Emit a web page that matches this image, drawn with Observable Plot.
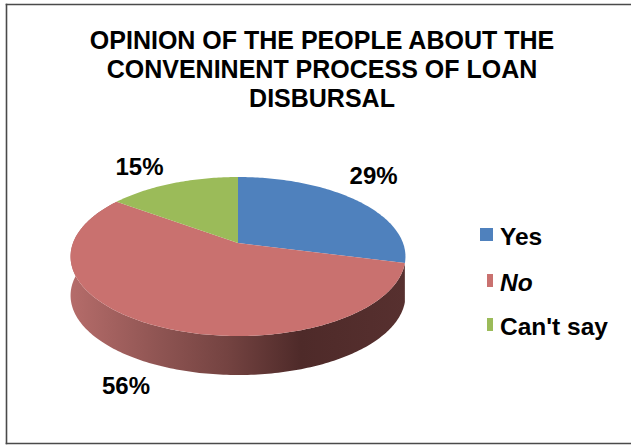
<!DOCTYPE html>
<html>
<head>
<meta charset="utf-8">
<script src="https://cdn.jsdelivr.net/npm/d3@7"></script>
<script src="https://cdn.jsdelivr.net/npm/@observablehq/plot@0.6"></script>
<style>
  html, body { margin: 0; background: #fff; }
  svg { display: block; }
</style>
</head>
<body>
<div id="chart"></div>
<script>
// Survey shares
const categories = ["Yes", "No", "Can't say"];
const shares = [29, 56, 15];
const shareLabels = ["29%", "56%", "15%"];
const colours = ["#4f81bd", "#c9716f", "#9bbb59"];
const titleLines = [
  "OPINION OF THE PEOPLE ABOUT THE",
  "CONVENINENT PROCESS OF LOAN",
  "DISBURSAL"
];

// Pie geometry: x and y scales map a unit disc onto the page, tilted in perspective
const hub = [238, 243];
const radiusX = 165;
const radiusY = 77.2;
const tilt = 0.17;
const thickness = 39 / radiusY;
const font = "'Liberation Sans', Arial, sans-serif";

// Offsets of the percentage labels from the rim at each slice's middle
const labelOffsets = [[17, -24], [-29.5, 60], [-34, -16]];

function project(turn) {
  const a = turn * 2 * Math.PI;
  const w = 1 + tilt * Math.cos(a);
  return [Math.sin(a) / w, Math.cos(a) / w];
}

// One row per rim sample, carrying the slice it belongs to
const total = d3.sum(shares);
const ends = d3.cumsum(shares);
const slices = categories.map((category, i) => ({
  category,
  start: (ends[i] - shares[i]) / total,
  end: ends[i] / total,
  label: shareLabels[i]
}));
const rim = slices.flatMap((s) => {
  const n = Math.ceil((s.end - s.start) * 360);
  return d3.range(n + 1).map((k) => {
    const [x, y] = project(s.start + (s.end - s.start) * (k / n));
    return { category: s.category, x, y };
  });
});

// Shaded side wall of the front slice
const wallGradient = () => {
  const defs = d3.create("svg:defs");
  const g = defs.append("linearGradient").attr("id", "wall");
  [[0, "#b56c6a"], [0.27, "#8e5452"], [0.47, "#744341"], [0.69, "#4e2a29"], [1, "#57302f"]]
    .forEach(([o, c]) => g.append("stop").attr("offset", o).attr("stop-color", c));
  return defs.node();
};

// Legend layout, expressed in page pixels and converted to the chart's scales
const toX = (px) => (px - hub[0]) / radiusX;
const toY = (px) => (hub[1] - px) / radiusY;
const legendTops = [228, 274, 318];
const legendLefts = [480, 487, 487];
const legendTextLeft = 499.5;
const legendRight = 493;
const swatchHeight = 13;

const textStyle = { fontFamily: font, fontWeight: "bold", fill: "#000" };

const chart = Plot.plot({
  width: 631,
  height: 445,
  marginLeft: 6,
  marginTop: 4,
  marginRight: 0,
  marginBottom: 2,
  style: { background: "#fff", overflow: "hidden" },
  x: { axis: null, domain: [-1, 1], range: [hub[0] - radiusX, hub[0] + radiusX] },
  y: { axis: null, domain: [-1, 1], range: [hub[1] + radiusY, hub[1] - radiusY] },
  color: { domain: categories, range: colours },
  marks: [
    wallGradient,
    // Chart border, open on the right
    ...["left", "top", "bottom"].map((anchor) =>
      Plot.frame({ anchor, stroke: "#4a4a4a", strokeWidth: 1.6 })
    ),
    Plot.text([titleLines.join("\n")], {
      ...textStyle,
      frameAnchor: "top",
      dx: 3,
      dy: 24,
      fontSize: 25,
      lineHeight: 1.16
    }),
    // Side wall
    Plot.area(rim.filter((d) => d.category === "No"), {
      x1: "x",
      y1: "y",
      x2: "x",
      y2: (d) => d.y - thickness,
      fill: "url(#wall)"
    }),
    // Top faces: each slice is swept from the hub to its rim
    Plot.area(rim, {
      x1: () => 0,
      y1: () => 0,
      x2: "x",
      y2: "y",
      z: "category",
      fill: "category"
    }),
    // Percentage labels
    ...slices.map((s, i) => {
      const [x, y] = project((s.start + s.end) / 2);
      return Plot.text([s.label], {
        ...textStyle,
        x: () => x,
        y: () => y,
        dx: labelOffsets[i][0],
        dy: labelOffsets[i][1],
        fontSize: 24
      });
    }),
    // Legend
    Plot.rect(categories, {
      x1: (d, i) => toX(legendLefts[i]),
      x2: () => toX(legendRight),
      y1: (d, i) => toY(legendTops[i]),
      y2: (d, i) => toY(legendTops[i] + swatchHeight),
      fill: (d) => d
    }),
    ...categories.map((c, i) =>
      Plot.text([c], {
        ...textStyle,
        x: () => toX(legendTextLeft),
        y: () => toY(legendTops[i] + swatchHeight / 2),
        dy: 2,
        textAnchor: "start",
        fontSize: 24.5,
        fontStyle: c === "No" ? "italic" : "normal"
      })
    )
  ]
});

document.getElementById("chart").append(chart);
</script>
</body>
</html>
